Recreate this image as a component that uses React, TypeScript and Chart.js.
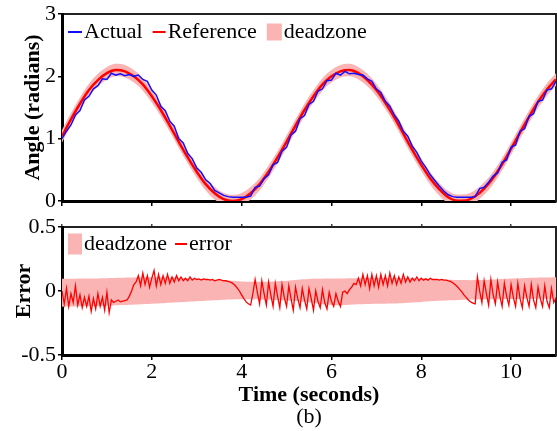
import { useEffect, useRef } from 'react';
import { Chart, registerables } from 'chart.js';

Chart.register(...registerables);

const FONT = "'Liberation Serif', 'Times New Roman', serif";
const PINK = '#fbb4b4';
const BLUE = '#1010ff';
const RED = '#ff0000';

// ---- Top plot: angle (radians) ----
const REF_STEP = 0.2; // seconds between reference samples
const referenceAngle = [
  1.04, 1.31, 1.56, 1.78, 1.94, 2.05, 2.10, 2.08, 2.00, 1.87,
  1.68, 1.46, 1.21, 0.95, 0.70, 0.47, 0.27, 0.125, 0.03, 0.0,
  0.03, 0.125, 0.27, 0.47, 0.70, 0.95, 1.21, 1.46, 1.68, 1.87,
  2.00, 2.08, 2.10, 2.05, 1.94, 1.78, 1.575, 1.34, 1.08, 0.82,
  0.58, 0.36, 0.19, 0.06, 0.005, 0.01, 0.075, 0.20, 0.37, 0.59,
  0.84, 1.10, 1.35, 1.59, 1.79, 1.95,
];
const deadzoneAngleUpper = [
  1.14, 1.41, 1.66, 1.88, 2.04, 2.15, 2.20, 2.18, 2.10, 1.97,
  1.78, 1.56, 1.31, 1.05, 0.80, 0.57, 0.37, 0.225, 0.13, 0.10,
  0.13, 0.225, 0.37, 0.57, 0.80, 1.05, 1.31, 1.56, 1.78, 1.97,
  2.10, 2.18, 2.20, 2.15, 2.04, 1.88, 1.675, 1.44, 1.18, 0.92,
  0.68, 0.46, 0.29, 0.16, 0.105, 0.11, 0.175, 0.30, 0.47, 0.69,
  0.94, 1.20, 1.45, 1.69, 1.89, 2.05,
];
const deadzoneAngleLower = [
  0.94, 1.21, 1.46, 1.68, 1.84, 1.95, 2.00, 1.98, 1.90, 1.77,
  1.58, 1.36, 1.11, 0.85, 0.60, 0.37, 0.17, 0.025, -0.07, -0.10,
  -0.07, 0.025, 0.17, 0.37, 0.60, 0.85, 1.11, 1.36, 1.58, 1.77,
  1.90, 1.98, 2.00, 1.95, 1.84, 1.68, 1.475, 1.24, 0.98, 0.72,
  0.48, 0.26, 0.09, -0.04, -0.095, -0.09, -0.025, 0.10, 0.27, 0.49,
  0.74, 1.00, 1.25, 1.49, 1.69, 1.85,
];
const ACTUAL_STEP = 0.1;
const actualAngle = [
  1.00, 1.12, 1.22, 1.38, 1.45, 1.62, 1.68, 1.80, 1.85, 1.96,
  1.95, 2.05, 2.02, 2.04, 2.01, 2.03, 2.00, 2.02, 1.95, 1.92,
  1.78, 1.70, 1.52, 1.45, 1.28, 1.20, 1.00, 0.93, 0.76, 0.68,
  0.53, 0.46, 0.34, 0.28, 0.17, 0.13, 0.09, 0.07, 0.06, 0.06,
  0.06, 0.06, 0.08, 0.22, 0.24, 0.36, 0.42, 0.58, 0.62, 0.80,
  0.86, 1.06, 1.12, 1.32, 1.37, 1.55, 1.60, 1.76, 1.80, 1.93,
  1.94, 2.05, 2.02, 2.08, 2.04, 2.05, 2.03, 2.02, 1.96, 1.92,
  1.80, 1.74, 1.60, 1.52, 1.38, 1.28, 1.12, 1.04, 0.88, 0.78,
  0.64, 0.54, 0.42, 0.33, 0.24, 0.16, 0.10, 0.07, 0.06, 0.06,
  0.06, 0.06, 0.07, 0.20, 0.22, 0.30, 0.40, 0.45, 0.62, 0.66,
  0.86, 0.90, 1.12, 1.16, 1.36, 1.40, 1.60, 1.62, 1.78, 1.80,
  1.92,
];

// ---- Bottom plot: error ----
const ERROR_STEP = 0.05;
const errorValues = [
  0.00, -0.10, 0.02, -0.12, -0.02, -0.09, 0.04, -0.11, -0.03, -0.13,
  -0.05, -0.12, -0.04, -0.16, -0.06, -0.14, -0.02, -0.12, -0.05, -0.15,
  -0.01, -0.17, -0.07, -0.09, -0.08, -0.07, -0.085, -0.08, -0.075, -0.07,
  -0.04, 0.0, 0.05, 0.07, 0.12, 0.04, 0.14, 0.05, 0.12, 0.03,
  0.10, 0.16, 0.04, 0.13, 0.05, 0.12, 0.06, 0.13, 0.06, 0.11,
  0.07, 0.12, 0.08, 0.11, 0.08, 0.10, 0.08, 0.11, 0.085, 0.10,
  0.09, 0.095, 0.085, 0.095, 0.09, 0.09, 0.085, 0.09, 0.08, 0.085,
  0.09, 0.085, 0.08, 0.08, 0.075, 0.07, 0.06, 0.045, 0.025, 0.0,
  -0.03, -0.06, -0.085, -0.10, -0.11, -0.02, 0.09, -0.01, -0.10, 0.08,
  -0.02, -0.11, 0.07, -0.03, -0.12, 0.06, -0.04, -0.13, 0.05, -0.05,
  -0.12, 0.04, -0.06, -0.15, 0.03, -0.06, -0.13, 0.02, -0.07, -0.14,
  0.02, -0.06, -0.15, 0.0, -0.08, -0.13, 0.01, -0.09, -0.14, -0.01,
  -0.08, -0.12, -0.02, -0.08, -0.12, -0.01, 0.0, -0.02, 0.01, 0.03,
  0.06, 0.05, 0.10, 0.04, 0.13, 0.05, 0.12, 0.02, 0.13, 0.04,
  0.12, 0.03, 0.13, 0.05, 0.12, 0.04, 0.14, 0.06, 0.12, 0.05,
  0.11, 0.06, 0.13, 0.07, 0.11, 0.07, 0.10, 0.08, 0.11, 0.08,
  0.10, 0.085, 0.095, 0.085, 0.10, 0.09, 0.09, 0.09, 0.085, 0.09,
  0.085, 0.085, 0.08, 0.075, 0.065, 0.05, 0.035, 0.015, -0.005, -0.03,
  -0.05, -0.07, -0.085, -0.095, -0.10, 0.11, 0.0, -0.09, 0.08, -0.02,
  -0.11, 0.09, -0.03, -0.10, 0.07, -0.04, -0.12, 0.06, -0.04, -0.11,
  0.05, -0.05, -0.12, 0.06, -0.06, -0.13, 0.04, -0.05, -0.12, 0.05,
  -0.07, -0.13, 0.03, -0.06, -0.12, 0.04, -0.08, -0.13, 0.02, -0.09,
  -0.05,
];
const BAND_STEP = 0.5;
const deadzoneErrorUpper = [
  0.095, 0.098, 0.10, 0.105, 0.108, 0.105, 0.095, 0.085, 0.075, 0.072,
  0.08, 0.093, 0.097, 0.10, 0.102, 0.102, 0.098, 0.09, 0.085, 0.088,
  0.097, 0.104, 0.108,
];
const deadzoneErrorLower = [
  -0.123, -0.12, -0.115, -0.108, -0.10, -0.09, -0.08, -0.07, -0.065, -0.068,
  -0.075, -0.09, -0.11, -0.105, -0.10, -0.095, -0.085, -0.075, -0.068, -0.065,
  -0.062, -0.06, -0.06,
];

const timeTicks = [0, 2, 4, 6, 8, 10];
const angleTicks = [0, 1, 2, 3];
const errorTicks = [-0.5, 0, 0.5];

const toXY = (vals: number[], step: number) =>
  vals.map((y, i) => ({ x: Math.round(i * step * 1000) / 1000, y }));

const setTicks = (vals: number[]) => (s: any) => {
  s.ticks = vals.map((v) => ({ value: v }));
};

type LegendSpec = { datasetIndex: number; kind: 'line' | 'box'; w: number; h?: number };

function makeLegend(id: string, items: LegendSpec[], left: number, top: number, gap: number, spacing: number) {
  return {
    id,
    afterDraw(chart: any) {
      const { ctx, chartArea } = chart;
      ctx.save();
      ctx.font = `22px ${FONT}`;
      ctx.textBaseline = 'middle';
      ctx.textAlign = 'left';
      let x = chartArea.left + left;
      const y = chartArea.top + top;
      for (const it of items) {
        const ds = chart.data.datasets[it.datasetIndex];
        if (it.kind === 'line') {
          ctx.strokeStyle = ds.borderColor;
          ctx.lineWidth = 2;
          ctx.beginPath();
          ctx.moveTo(x, y);
          ctx.lineTo(x + it.w, y);
          ctx.stroke();
        } else {
          ctx.fillStyle = ds.backgroundColor;
          ctx.fillRect(x, y - (it.h || 16) / 2, it.w, it.h || 16);
        }
        x += it.w + gap;
        ctx.fillStyle = '#000';
        ctx.fillText(ds.label, x, y);
        x += ctx.measureText(ds.label).width + spacing;
      }
      ctx.restore();
    },
  };
}

const tickFont = { family: FONT, size: 22, lineHeight: 1 };
const titleFont = { family: FONT, size: 22, weight: 'bold' as const, lineHeight: 1 };

export default function App() {
  const topRef = useRef<HTMLCanvasElement>(null);
  const botRef = useRef<HTMLCanvasElement>(null);

  useEffect(() => {
    const top = new Chart(topRef.current as HTMLCanvasElement, {
      type: 'line',
      data: {
        datasets: [
          { label: 'Actual', data: toXY(actualAngle, ACTUAL_STEP), borderColor: BLUE, borderWidth: 1.5, pointRadius: 0, fill: false },
          { label: 'Reference', data: toXY(referenceAngle, REF_STEP), borderColor: RED, borderWidth: 2.5, pointRadius: 0, cubicInterpolationMode: 'monotone', fill: false },
          { label: 'deadzone', data: toXY(deadzoneAngleUpper, REF_STEP), borderColor: 'rgba(0,0,0,0)', backgroundColor: PINK, borderWidth: 0, pointRadius: 0, cubicInterpolationMode: 'monotone', fill: '+1' },
          { label: 'deadzone lower', data: toXY(deadzoneAngleLower, REF_STEP), borderColor: 'rgba(0,0,0,0)', backgroundColor: PINK, borderWidth: 0, pointRadius: 0, cubicInterpolationMode: 'monotone', fill: false },
        ],
      } as any,
      options: {
        animation: false,
        responsive: false,
        events: [],
        layout: { padding: { top: 14, bottom: 7, left: 0, right: 1 } },
        plugins: { legend: { display: false }, tooltip: { enabled: false } },
        scales: {
          x: {
            type: 'linear', position: 'bottom', min: 0, max: 11,
            afterBuildTicks: setTicks(timeTicks),
            ticks: { display: false },
            grid: { drawOnChartArea: false, drawTicks: true, tickLength: 5, color: '#000', lineWidth: 1.5 },
            border: { display: true, color: '#000', width: 3 },
          },
          xTop: {
            type: 'linear', position: 'top', min: 0, max: 11,
            ticks: { display: false },
            grid: { display: false, drawTicks: false },
            border: { display: true, color: '#222', width: 2 },
          },
          y: {
            type: 'linear', position: 'left', min: 0, max: 3,
            afterBuildTicks: setTicks(angleTicks),
            afterFit: (s: any) => { s.width = 62; },
            ticks: { font: tickFont, color: '#000', padding: 2 },
            grid: { drawOnChartArea: false, drawTicks: true, tickLength: 4, color: '#000', lineWidth: 1.5 },
            border: { display: true, color: '#000', width: 3 },
            title: { display: true, text: 'Angle (radians)', font: titleFont, color: '#000', padding: { top: 22, bottom: 0 } },
          },
          yRight: {
            type: 'linear', position: 'right', min: 0, max: 3,
            afterFit: (s: any) => { s.width = 0; },
            ticks: { display: false },
            grid: { display: false, drawTicks: false },
            border: { display: true, color: '#222', width: 2 },
          },
        },
      } as any,
      plugins: [
        makeLegend('legendTop', [
          { datasetIndex: 0, kind: 'line', w: 14 },
          { datasetIndex: 1, kind: 'line', w: 13 },
          { datasetIndex: 2, kind: 'box', w: 15, h: 17 },
        ], 6, 18, 2, 10),
      ],
    });

    const bot = new Chart(botRef.current as HTMLCanvasElement, {
      type: 'line',
      data: {
        datasets: [
          { label: 'error', data: toXY(errorValues, ERROR_STEP), borderColor: RED, borderWidth: 1.3, pointRadius: 0, fill: false },
          { label: 'deadzone', data: toXY(deadzoneErrorUpper, BAND_STEP), borderColor: 'rgba(0,0,0,0)', backgroundColor: PINK, borderWidth: 0, pointRadius: 0, tension: 0.4, fill: '+1' },
          { label: 'deadzone lower', data: toXY(deadzoneErrorLower, BAND_STEP), borderColor: 'rgba(0,0,0,0)', backgroundColor: PINK, borderWidth: 0, pointRadius: 0, tension: 0.4, fill: false },
        ],
      } as any,
      options: {
        animation: false,
        responsive: false,
        events: [],
        layout: { padding: { top: 9, bottom: 3, left: 0, right: 1 } },
        plugins: {
          legend: { display: false },
          tooltip: { enabled: false },
          title: { display: true, text: '(b)', position: 'bottom', fullSize: false, color: '#000', font: { family: FONT, size: 22, weight: 'normal', lineHeight: 1 }, padding: { top: 0, bottom: 0 } },
        },
        scales: {
          x: {
            type: 'linear', position: 'bottom', min: 0, max: 11,
            afterBuildTicks: setTicks(timeTicks),
            ticks: { font: tickFont, color: '#000', padding: 1, maxRotation: 0 },
            grid: { drawOnChartArea: false, drawTicks: true, tickLength: 5, color: '#000', lineWidth: 1.5 },
            border: { display: true, color: '#000', width: 3 },
            title: { display: true, text: 'Time (seconds)', font: titleFont, color: '#000', padding: { top: 0, bottom: 0 } },
          },
          xTop: {
            type: 'linear', position: 'top', min: 0, max: 11,
            afterBuildTicks: setTicks(timeTicks),
            ticks: { display: false },
            grid: { drawOnChartArea: false, drawTicks: true, tickLength: 3, color: '#444', lineWidth: 1.5 },
            border: { display: true, color: '#222', width: 2 },
          },
          y: {
            type: 'linear', position: 'left', min: -0.5, max: 0.5,
            afterBuildTicks: setTicks(errorTicks),
            afterFit: (s: any) => { s.width = 62; },
            ticks: { font: tickFont, color: '#000', padding: 2 },
            grid: { drawOnChartArea: false, drawTicks: true, tickLength: 4, color: '#000', lineWidth: 1.5 },
            border: { display: true, color: '#000', width: 3 },
            title: { display: true, text: 'Error', font: titleFont, color: '#000', padding: { top: 13, bottom: 0 } },
          },
          yRight: {
            type: 'linear', position: 'right', min: -0.5, max: 0.5,
            afterFit: (s: any) => { s.width = 0; },
            ticks: { display: false },
            grid: { display: false, drawTicks: false },
            border: { display: true, color: '#222', width: 2 },
          },
        },
      } as any,
      plugins: [
        makeLegend('legendBottom', [
          { datasetIndex: 1, kind: 'box', w: 14, h: 21 },
          { datasetIndex: 0, kind: 'line', w: 12 },
        ], 6, 17, 2, 8),
      ],
    });

    return () => {
      top.destroy();
      bot.destroy();
    };
  }, []);

  return (
    <div style={{ position: 'absolute', left: 0, top: 0, width: 557, height: 431, background: '#fff' }}>
      <canvas ref={topRef} width={557} height={214} style={{ position: 'absolute', left: 0, top: 0, display: 'block' }} />
      <canvas ref={botRef} width={557} height={217} style={{ position: 'absolute', left: 0, top: 214, display: 'block' }} />
    </div>
  );
}
